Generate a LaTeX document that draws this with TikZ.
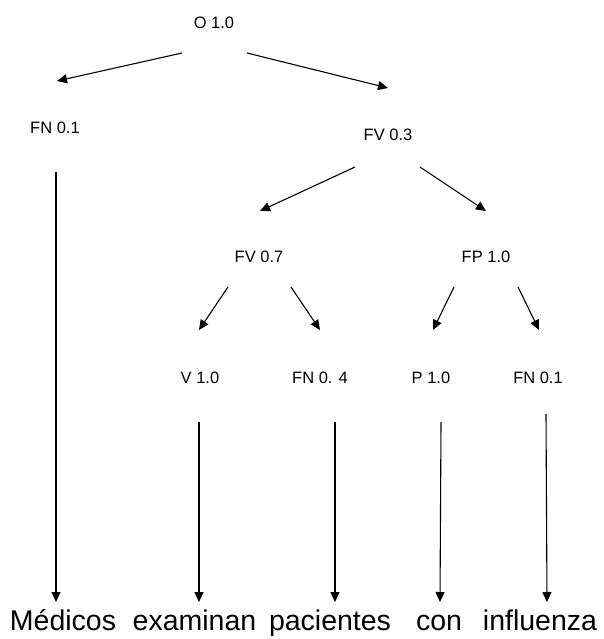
\documentclass[tikz,border=0pt]{standalone}
\usepackage{fontspec}
\setmainfont{Liberation Sans}
\usetikzlibrary{arrows.meta}
\begin{document}
\begin{tikzpicture}[x=1pt,y=-1pt,
  lbl/.style={inner sep=0pt,font=\fontsize{16.5}{18}\selectfont},
  word/.style={inner sep=0pt,anchor=base,font=\fontsize{28.5}{31}\selectfont},
  arr/.style={line width=1.1pt,-{Triangle[length=10pt,width=9pt]}}]
\useasboundingbox (0,0) rectangle (604,639);
% tree labels
\node[lbl] (O)   at (214,23)  {O 1.0};
\node[lbl] (FNa) at (55,128)  {FN 0.1};
\node[lbl] (FV3) at (388,135) {FV 0.3};
\node[lbl] (FV7) at (259,257) {FV 0.7};
\node[lbl] (FP)  at (486,257) {FP 1.0};
\node[lbl] (V)   at (200,378) {V 1.0};
\node[lbl] (FN4) at (320,378) {FN 0. 4};
\node[lbl] (P)   at (431,378) {P 1.0};
\node[lbl] (FNb) at (538,378) {FN 0.1};
% sentence words
\node[word] (w1) at (63,630)    {Médicos};
\node[word] (w2) at (194.5,630) {examinan};
\node[word] (w3) at (330,630)   {pacientes};
\node[word] (w4) at (439,630)   {con};
\node[word] (w5) at (540,630)   {influenza};
% branches
\draw[arr] ([xshift=-32pt,yshift=-30pt]O.center)   -- ([xshift=2pt,yshift=47pt]FNa.center);
\draw[arr] ([xshift=33pt,yshift=-30pt]O.center)    -- ([yshift=47pt]FV3.center);
\draw[arr] ([xshift=-33pt,yshift=-32pt]FV3.center) -- ([xshift=1pt,yshift=46pt]FV7.center);
\draw[arr] ([xshift=32pt,yshift=-32pt]FV3.center)  -- ([yshift=46pt]FP.center);
\draw[arr] ([xshift=-31pt,yshift=-30pt]FV7.center) -- ([xshift=-1pt,yshift=48pt]V.center);
\draw[arr] ([xshift=32pt,yshift=-30pt]FV7.center)  -- ([yshift=48pt]FN4.center);
\draw[arr] ([xshift=-32pt,yshift=-30pt]FP.center)  -- ([xshift=2pt,yshift=48pt]P.center);
\draw[arr] ([xshift=32pt,yshift=-30pt]FP.center)   -- ([xshift=1pt,yshift=48pt]FNb.center);
% leaves to words
\draw[arr] ([xshift=1pt,yshift=-44pt]FNa.center)  -- ([xshift=-7pt,yshift=28pt]w1.base);
\draw[arr] ([xshift=-1pt,yshift=-44pt]V.center)   -- ([xshift=4.5pt,yshift=28pt]w2.base);
\draw[arr] ([xshift=15pt,yshift=-44pt]FN4.center) -- ([xshift=5pt,yshift=28pt]w3.base);
\draw[arr] ([xshift=10pt,yshift=-44pt]P.center)   -- ([xshift=1pt,yshift=28pt]w4.base);
\draw[arr] ([xshift=8pt,yshift=-36pt]FNb.center)  -- ([xshift=7pt,yshift=28pt]w5.base);
\end{tikzpicture}
\end{document}
